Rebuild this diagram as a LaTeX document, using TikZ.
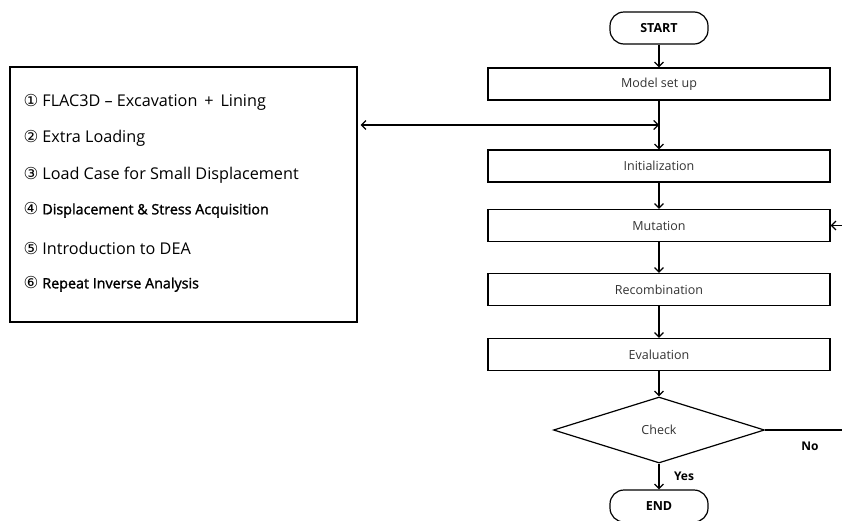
\documentclass[tikz,border=0pt]{standalone}
\usepackage{fontspec}
\setmainfont{Open Sans}
\newfontfamily\circfont{DejaVu Sans}
\newfontfamily\semib[FakeBold=1.5]{Open Sans}
\usetikzlibrary{arrows.meta,shapes.geometric,calc}
\newcommand{\circn}[1]{{\circfont\fontsize{16.5}{18}\selectfont #1}\hspace{4pt}}
\begin{document}
\begin{tikzpicture}[x=1pt,y=-1pt,
  line width=1.2pt,
  arr/.style={-{Straight Barb[length=4.5pt,width=9pt,line width=1.2pt]}},
  darr/.style={{Straight Barb[length=4.5pt,width=9pt,line width=1.2pt]}-{Straight Barb[length=4.5pt,width=9pt,line width=1.2pt]}},
  proc/.style={draw,rectangle,minimum width=342pt,minimum height=32pt,inner sep=0pt,font=\fontsize{12.5}{14}\selectfont,text=black!80},
  term/.style={draw,rectangle,rounded corners=14pt,minimum width=98pt,minimum height=32pt,inner sep=0pt,font=\bfseries\fontsize{12.5}{14}\selectfont},
  dec/.style={draw,diamond,shape aspect=3.2,minimum width=211pt,minimum height=66pt,inner sep=0pt,font=\fontsize{12.5}{14}\selectfont,text=black!80},
  item/.style={anchor=west,inner sep=0pt},
  big/.style={font=\fontsize{16.2}{18}\selectfont},
  small/.style={font=\semib\fontsize{14.3}{16}\selectfont},
  lbl/.style={font=\bfseries\fontsize{12}{14}\selectfont,inner sep=0pt}
]
\useasboundingbox (0,0) rectangle (842,520);
\fill[white] (0,0) rectangle (842,520);

% flowchart
\node[term] (start) at (659,28) {START};
\node[proc] (model) at (659,84) {Model set up};
\node[proc] (init) at (659,166) {Initialization};
\node[proc] (mut) at (659,225.5) {Mutation};
\node[proc] (rec) at (659,289.5) {Recombination};
\node[proc] (eval) at (659,354.5) {Evaluation};
\node[dec] (check) at (659,430) {Check};
\node[term] (end) at (659,506) {END};

\node[lbl] (yes) at (684,476) {Yes};
\node[lbl] (no) at (810,446) {No};

\coordinate (j) at (659,125);
\coordinate (noend) at (842,430);
\coordinate (backstart) at (842,225.5);

\draw[arr] (start) -- (model);
\draw[arr] (model) -- (init);
\draw[arr] (init) -- (mut);
\draw[arr] (mut) -- (rec);
\draw[arr] (rec) -- (eval);
\draw[arr] (eval) -- (check);
\draw[arr] (check) -- (end);
\draw (check.east) -- (noend);
\draw[arr] (backstart) -- (mut.east);

% info box
\node[draw,rectangle,minimum width=347pt,minimum height=255pt,inner sep=0pt] (info) at (183.5,194.5) {};
\draw[darr] ([xshift=3pt]info.east |- j) -- (j);

\node[item,big] (t1) at (23,102) {\circn{①}FLAC3D – Excavation \,+\, Lining};
\node[item,big] (t2) at (23,138) {\circn{②}Extra Loading};
\node[item,big] (t3) at (23,175) {\circn{③}Load Case for Small Displacement};
\node[item,small] (t4) at (23,210) {\circn{④}Displacement \& Stress Acquisition};
\node[item,big] (t5) at (23,248) {\circn{⑤}Introduction to DEA};
\node[item,small] (t6) at (23,284) {\circn{⑥}Repeat Inverse Analysis};
\end{tikzpicture}
\end{document}
